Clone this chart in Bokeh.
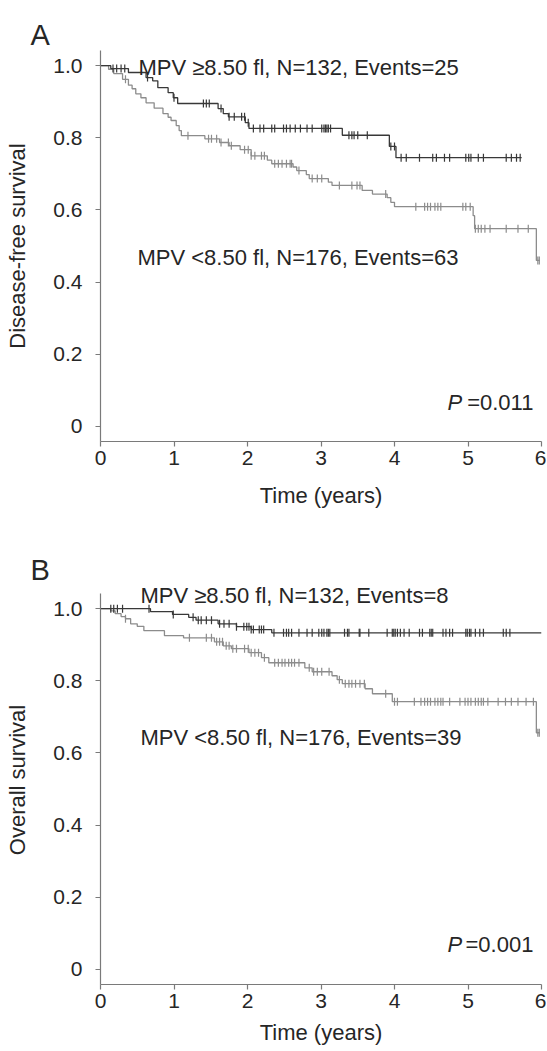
import numpy as np
from bokeh.plotting import figure
from bokeh.models import FixedTicker, Label
from bokeh.layouts import column
from bokeh.embed import file_html
from bokeh.resources import INLINE

# ---------------- data ----------------
# Panel A: disease-free survival
A_hi_t = [0, 0.14, 0.38, 0.62, 0.71, 0.78, 0.92, 0.99, 1.05, 1.60, 1.67, 1.74, 1.97, 2.02, 3.29, 3.93, 4.02]
A_hi_s = [1.0, 0.992, 0.981, 0.967, 0.958, 0.939, 0.925, 0.911, 0.895, 0.881, 0.867, 0.858, 0.842, 0.826, 0.807, 0.776, 0.745]
A_hi_end = 5.73
A_hi_cens = [0.17, 0.22, 0.28, 0.33, 0.64, 1.0, 1.40, 1.44, 1.48, 1.64, 1.75, 1.82, 1.92, 1.96, 2.01, 2.08,
             2.17, 2.22, 2.33, 2.37, 2.49, 2.53, 2.58, 2.65, 2.72, 2.81, 2.88, 3.01, 3.04, 3.06, 3.08, 3.10,
             3.13, 3.38, 3.42, 3.45, 3.50, 3.63, 3.95, 4.0, 4.09, 4.16, 4.34, 4.52, 4.57, 4.68, 4.75, 4.97,
             5.01, 5.04, 5.14, 5.21, 5.52, 5.59, 5.66, 5.71]

A_lo_t = [0, 0.11, 0.18, 0.30, 0.38, 0.43, 0.48, 0.55, 0.62, 0.73, 0.85, 0.92, 0.96, 1.03, 1.07, 1.10,
          1.42, 1.62, 1.75, 1.90, 2.05, 2.27, 2.33, 2.62, 2.67, 2.80, 2.84, 3.10, 3.15, 3.56, 3.70, 3.90,
          3.95, 4.00, 5.07, 5.09, 5.93]
A_lo_s = [1.0, 0.99, 0.978, 0.962, 0.946, 0.936, 0.922, 0.911, 0.897, 0.882, 0.867, 0.857, 0.848, 0.834,
          0.820, 0.806, 0.797, 0.787, 0.778, 0.767, 0.750, 0.738, 0.728, 0.719, 0.709, 0.698, 0.687, 0.677,
          0.668, 0.654, 0.644, 0.634, 0.621, 0.609, 0.584, 0.548, 0.460]
A_lo_end = 5.98
A_lo_cens = [0.34, 1.19, 1.47, 1.51, 1.58, 1.64, 1.74, 1.78, 1.96, 2.01, 2.05, 2.10, 2.19, 2.23, 2.37, 2.42,
             2.47, 2.53, 2.58, 2.60, 2.70, 2.88, 2.95, 3.01, 3.25, 3.42, 3.49, 3.53, 3.88, 4.29, 4.41,
             4.45, 4.49, 4.55, 4.59, 4.63, 4.93, 4.97, 5.03, 5.10, 5.14, 5.18, 5.23, 5.30, 5.52, 5.68,
             5.82, 5.95, 5.97]

# Panel B: overall survival
B_hi_t = [0, 0.68, 0.98, 1.20, 1.30, 1.60, 1.85, 2.05, 2.33]
B_hi_s = [1.0, 0.992, 0.984, 0.976, 0.968, 0.958, 0.950, 0.942, 0.933]
B_hi_end = 6.0
B_hi_cens = [0.14, 0.18, 0.23, 0.30, 0.66, 0.99, 1.26, 1.33, 1.37, 1.44, 1.51, 1.62, 1.68, 1.75, 1.85, 1.95,
             1.99, 2.02, 2.05, 2.08, 2.16, 2.19, 2.22, 2.36, 2.49, 2.53, 2.56, 2.60, 2.70, 2.81, 2.88,
             2.97, 3.01, 3.04, 3.08, 3.10, 3.12, 3.32, 3.36, 3.38, 3.52, 3.53, 3.65, 3.90, 3.97, 3.99,
             4.01, 4.04, 4.08, 4.13, 4.20, 4.34, 4.38, 4.48, 4.50, 4.52, 4.66, 4.70, 4.75, 4.79, 4.97,
             4.99, 5.02, 5.04, 5.10, 5.16, 5.21, 5.48, 5.52, 5.57]

B_lo_t = [0, 0.14, 0.20, 0.28, 0.34, 0.41, 0.50, 0.59, 0.87, 1.13, 1.55, 1.67, 1.78, 2.02, 2.19, 2.29,
          2.78, 2.88, 3.15, 3.22, 3.29, 3.60, 3.70, 3.97, 5.93]
B_lo_s = [1.0, 0.994, 0.986, 0.978, 0.972, 0.958, 0.951, 0.939, 0.925, 0.919, 0.908, 0.897, 0.889, 0.878,
          0.864, 0.850, 0.836, 0.825, 0.814, 0.803, 0.792, 0.778, 0.764, 0.742, 0.656]
B_lo_end = 5.98
B_lo_cens = [0.34, 1.21, 1.44, 1.51, 1.58, 1.62, 1.66, 1.71, 1.75, 1.80, 1.85, 1.96, 2.01, 2.05, 2.10, 2.15,
             2.23, 2.37, 2.42, 2.47, 2.51, 2.56, 2.60, 2.64, 2.70, 2.84, 2.90, 2.95, 3.01, 3.11, 3.25,
             3.33, 3.38, 3.42, 3.47, 3.53, 3.59, 3.88, 4.00, 4.04, 4.27, 4.36, 4.41, 4.45, 4.49, 4.55,
             4.59, 4.63, 4.66, 4.75, 4.89, 4.96, 5.00, 5.04, 5.10, 5.14, 5.18, 5.21, 5.27, 5.41, 5.51,
             5.59, 5.68, 5.79, 5.89, 5.95, 5.97]

x_ticks = [0, 1, 2, 3, 4, 5, 6]
y_ticks = [0, 0.2, 0.4, 0.6, 0.8, 1.0]
y_tick_labels = {0: "0", 0.2: "0.2", 0.4: "0.4", 0.6: "0.6", 0.8: "0.8", 1: "1.0"}

# ---------------- styling ----------------
FONT = "Liberation Sans"
TXT = "#262626"
AXC = "#7a7a7a"
DARK = "#383838"
LIGHT = "#8c8c8c"
Y0, Y1 = -0.042, 1.042
PX_PER_UNIT = 391 / (Y1 - Y0)


def step_value(ts, ss, t):
    i = np.searchsorted(np.asarray(ts), t, side="right") - 1
    return np.asarray(ss)[i]


def make_panel(letter, ylabel, border_top, border_bottom, xl_standoff, title_standoff, extra_top=0):
    ytop = Y1 + extra_top / PX_PER_UNIT
    p = figure(frame_width=441, frame_height=391 + extra_top, x_range=(0, 6), y_range=(Y0, ytop),
               min_border_left=100, min_border_right=5, min_border_top=border_top,
               min_border_bottom=border_bottom, output_backend="svg", toolbar_location=None,
               background_fill_color="white", border_fill_color="white",
               title=letter)
    p.title.align = "left"
    p.title.offset = -70
    p.title.text_font = FONT
    p.title.text_font_size = "29px"
    p.title.text_font_style = "normal"
    p.title.text_color = TXT
    try:
        p.title.standoff = title_standoff
    except Exception:
        p.title.standoff = 0
    p.outline_line_color = None
    p.grid.visible = False
    p.xaxis.ticker = FixedTicker(ticks=x_ticks)
    p.yaxis.ticker = FixedTicker(ticks=y_ticks)
    p.yaxis.major_label_overrides = y_tick_labels
    p.yaxis.bounds = (Y0, Y1)
    for ax in (p.xaxis[0], p.yaxis[0]):
        ax.axis_line_color = AXC
        ax.axis_line_width = 1.2
        ax.major_tick_line_color = AXC
        ax.major_tick_line_width = 1.2
        ax.major_tick_in = 0
        ax.major_tick_out = 5
        ax.minor_tick_line_color = None
        ax.major_label_text_font = FONT
        ax.major_label_text_font_size = "21px"
        ax.major_label_text_color = TXT
        ax.axis_label_text_font = FONT
        ax.axis_label_text_font_size = "22px"
        ax.axis_label_text_font_style = "normal"
        ax.axis_label_text_color = TXT
    p.xaxis.axis_label = "Time (years)"
    p.xaxis.major_label_standoff = 4
    p.xaxis.axis_label_standoff = xl_standoff
    p.yaxis.axis_label = ylabel
    p.yaxis.major_label_standoff = 13
    p.yaxis.axis_label_standoff = 20
    return p


def draw_curve(p, ts, ss, end, cens, color):
    xs = list(ts) + [end]
    ys = list(ss) + [ss[-1]]
    p.step(xs, ys, mode="after", line_color=color, line_width=1.3)
    cy = [float(step_value(ts, ss, c)) for c in cens]
    p.scatter(cens, cy, marker="dash", angle=np.pi / 2, size=8,
              line_color=color, line_width=1.2, fill_color=None)


def label(p, x, y, text, size="22px", style="normal", align="left"):
    p.add_layout(Label(x=x, y=y, text=text, text_font=FONT, text_font_size=size,
                       text_font_style=style, text_color=TXT, text_align=align,
                       text_baseline="alphabetic"))


# ---------------- panel A ----------------
pA = make_panel("A", "Disease-free survival", 50, 89, 15, 0)
draw_curve(pA, A_lo_t, A_lo_s, A_lo_end, A_lo_cens, LIGHT)
draw_curve(pA, A_hi_t, A_hi_s, A_hi_end, A_hi_cens, DARK)
label(pA, 0.517, 0.995, "MPV \u22658.50 fl, N=132, Events=25")
label(pA, 0.503, 0.467, "MPV <8.50 fl, N=176, Events=63")
label(pA, 4.72, 0.066, "P", style="italic")
label(pA, 5.89, 0.066, "=0.011", align="right")

# ---------------- panel B ----------------
pB = make_panel("B", "Overall survival", 45, 67, 9, -21, extra_top=18)
draw_curve(pB, B_lo_t, B_lo_s, B_lo_end, B_lo_cens, LIGHT)
draw_curve(pB, B_hi_t, B_hi_s, B_hi_end, B_hi_cens, DARK)
label(pB, 0.544, 1.036, "MPV \u22658.50 fl, N=132, Events=8")
label(pB, 0.544, 0.643, "MPV <8.50 fl, N=176, Events=39")
label(pB, 4.72, 0.069, "P", style="italic")
label(pB, 5.89, 0.069, "=0.001", align="right")

layout = column(pA, pB)
open("out.html", "w").write(file_html(layout, INLINE))
